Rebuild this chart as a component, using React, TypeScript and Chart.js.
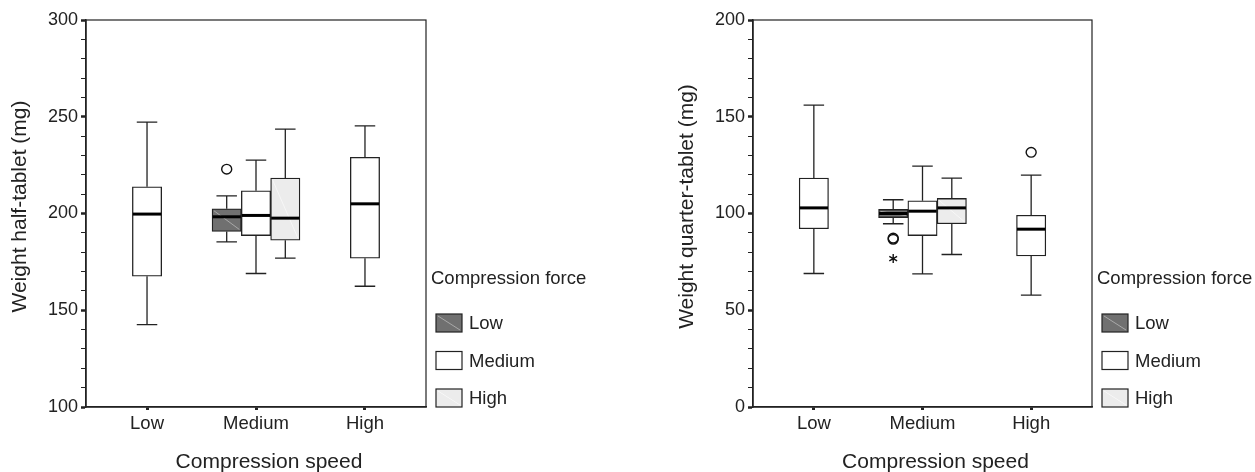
import React, { useEffect, useRef } from 'react';
import { Chart, registerables } from 'chart.js';

Chart.register(...registerables);

// ---------- shared labels ----------
const speedLabels = ['Low', 'Medium', 'High'];
const forceLabels = ['Low', 'Medium', 'High'];
const forceColors = ['#707070', '#ffffff', '#ececec'];
const forceHatch = ['#a9a9a9', '', '#f7f7f7'];
const xTitle = 'Compression speed';
const legendTitle = 'Compression force';
const xRange = [-0.56, 2.56];

// ---------- panel 1: half tablet ----------
const halfTitle = 'Weight half-tablet (mg)';
const halfRange = [100, 300];
const halfMinorStep = 10;
const halfMajorStep = 50;
const halfLowMin = [null, 185.3, null];
const halfLowQ1 = [null, 190.7, null];
const halfLowMed = [null, 198.3, null];
const halfLowQ3 = [null, 202.4, null];
const halfLowMax = [null, 209.1, null];
const halfMedMin = [142.6, 169.0, 162.4];
const halfMedQ1 = [167.6, 188.6, 176.9];
const halfMedMed = [199.7, 199.0, 205.0];
const halfMedQ3 = [213.8, 211.7, 229.0];
const halfMedMax = [247.2, 227.6, 245.3];
const halfHighMin = [null, 176.9, null];
const halfHighQ1 = [null, 186.2, null];
const halfHighMed = [null, 197.6, null];
const halfHighQ3 = [null, 218.3, null];
const halfHighMax = [null, 243.6, null];
const halfOutSpeed = [1];
const halfOutForce = [0];
const halfOutValue = [222.9];
const halfOutMark = ['circle'];

// ---------- panel 2: quarter tablet ----------
const quarterTitle = 'Weight quarter-tablet (mg)';
const quarterRange = [0, 200];
const quarterMinorStep = 10;
const quarterMajorStep = 50;
const quarterLowMin = [null, 94.7, null];
const quarterLowQ1 = [null, 97.9, null];
const quarterLowMed = [null, 100.0, null];
const quarterLowQ3 = [null, 102.1, null];
const quarterLowMax = [null, 107.1, null];
const quarterMedMin = [69.0, 68.8, 57.8];
const quarterMedQ1 = [92.1, 88.6, 78.1];
const quarterMedMed = [102.9, 101.2, 91.9];
const quarterMedQ3 = [118.3, 106.6, 99.1];
const quarterMedMax = [156.0, 124.5, 119.8];
const quarterHighMin = [null, 78.8, null];
const quarterHighQ1 = [null, 94.7, null];
const quarterHighMed = [null, 102.9, null];
const quarterHighQ3 = [null, 107.8, null];
const quarterHighMax = [null, 118.3, null];
const quarterOutSpeed = [1, 1, 1, 2];
const quarterOutForce = [0, 0, 0, 1];
const quarterOutValue = [86.7, 87.3, 76.7, 131.6];
const quarterOutMark = ['circle', 'circle', 'star', 'circle'];

const INK = '#222222';
const FONT = '"Liberation Sans", Arial, Helvetica, sans-serif';

type Num = number | null;

function buildDatasets(mins: Num[][], q1s: Num[][], meds: Num[][], q3s: Num[][], maxs: Num[][]) {
  return forceLabels.map((label, f) => ({
    type: 'bar' as const,
    label,
    data: speedLabels.map((_, i) => ({
      x: i,
      y: q1s[f][i] == null ? null : [q1s[f][i], q3s[f][i]],
    })),
    backgroundColor: forceColors[f],
    borderColor: INK,
    borderWidth: 1.3,
    borderSkipped: false,
    barThickness: 29.3,
    grouped: true,
    skipNull: true,
    whiskerMin: mins[f],
    median: meds[f],
    whiskerMax: maxs[f],
    hatch: forceHatch[f],
  }));
}

const boxPlugin = {
  id: 'boxParts',
  afterDatasetsDraw(chart: any, _args: any, opts: any) {
    const { ctx } = chart;
    const ys = chart.scales.y;
    ctx.save();
    chart.data.datasets.forEach((ds: any, di: number) => {
      const meta = chart.getDatasetMeta(di);
      meta.data.forEach((el: any, i: number) => {
        if (ds.median[i] == null) return;
        const x = el.x;
        const half = el.width / 2;
        const yQ1 = ys.getPixelForValue(ds.data[i].y[0]);
        const yQ3 = ys.getPixelForValue(ds.data[i].y[1]);
        const yMin = ys.getPixelForValue(ds.whiskerMin[i]);
        const yMax = ys.getPixelForValue(ds.whiskerMax[i]);
        const yMed = ys.getPixelForValue(ds.median[i]);
        if (ds.hatch) {
          ctx.strokeStyle = ds.hatch;
          ctx.lineWidth = 1;
          ctx.beginPath();
          ctx.moveTo(x - half + 2, yQ3 + 2);
          ctx.lineTo(x + half - 2, yQ1 - 2);
          ctx.stroke();
        }
        const cap = el.width * 0.35;
        ctx.strokeStyle = INK;
        ctx.lineWidth = 1.3;
        ctx.beginPath();
        ctx.moveTo(x, yQ3);
        ctx.lineTo(x, yMax);
        ctx.moveTo(x - cap, yMax);
        ctx.lineTo(x + cap, yMax);
        ctx.moveTo(x, yQ1);
        ctx.lineTo(x, yMin);
        ctx.moveTo(x - cap, yMin);
        ctx.lineTo(x + cap, yMin);
        ctx.stroke();
        ctx.strokeStyle = '#000';
        ctx.lineWidth = 3;
        ctx.beginPath();
        ctx.moveTo(x - half + 0.5, yMed);
        ctx.lineTo(x + half - 0.5, yMed);
        ctx.stroke();
      });
    });
    const o = opts.outliers;
    for (let k = 0; k < o.speed.length; k++) {
      const meta = chart.getDatasetMeta(o.force[k]);
      const el = meta.data[o.speed[k]];
      const x = el.x;
      const y = ys.getPixelForValue(o.value[k]);
      ctx.strokeStyle = '#111';
      ctx.lineWidth = 1.4;
      ctx.beginPath();
      if (o.mark[k] === 'circle') {
        ctx.ellipse(x, y, 5, 4.8, 0, 0, Math.PI * 2);
      } else {
        const r = 4.5;
        for (let a = 0; a < 3; a++) {
          const ang = Math.PI / 2 + (a * Math.PI) / 3;
          ctx.moveTo(x + r * Math.cos(ang), y + r * Math.sin(ang));
          ctx.lineTo(x - r * Math.cos(ang), y - r * Math.sin(ang));
        }
      }
      ctx.stroke();
    }
    ctx.restore();
  },
  afterDraw(chart: any, _args: any, opts: any) {
    const { ctx, chartArea } = chart;
    const { left, right, top, bottom } = chartArea;
    ctx.save();
    ctx.strokeStyle = INK;
    ctx.lineWidth = 1.2;
    ctx.strokeRect(left, top, right - left, bottom - top);
    ctx.fillStyle = INK;
    ctx.font = `21px ${FONT}`;
    ctx.textAlign = 'center';
    ctx.textBaseline = 'middle';
    ctx.fillText(opts.xTitle, (left + right) / 2 + 13, bottom + 55);
    ctx.save();
    ctx.translate(left + opts.yTitleOffset, (top + bottom) / 2 - 7);
    ctx.rotate(-Math.PI / 2);
    ctx.fillText(opts.yTitle, 0, 0);
    ctx.restore();
    ctx.font = `18.5px ${FONT}`;
    ctx.textAlign = 'left';
    ctx.fillText(opts.legendTitle, right + 5, bottom - 128);
    const n = chart.data.datasets.length;
    chart.data.datasets.forEach((ds: any, i: number) => {
      const bh = 18;
      const bw = 26;
      const bx = right + 10;
      const by = bottom - bh - (n - 1 - i) * 37.5;
      ctx.fillStyle = ds.backgroundColor;
      ctx.fillRect(bx, by, bw, bh);
      if (ds.hatch) {
        ctx.strokeStyle = ds.hatch;
        ctx.lineWidth = 1;
        ctx.beginPath();
        ctx.moveTo(bx + 2, by + 2);
        ctx.lineTo(bx + bw - 2, by + bh - 2);
        ctx.stroke();
      }
      ctx.strokeStyle = INK;
      ctx.lineWidth = 1.2;
      ctx.strokeRect(bx, by, bw, bh);
      ctx.fillStyle = INK;
      ctx.fillText(ds.label, bx + bw + 7, by + bh / 2 + 1);
    });
    ctx.restore();
  },
};

function makeConfig(p: any) {
  return {
    type: 'bar' as const,
    data: { datasets: buildDatasets(p.mins, p.q1s, p.meds, p.q3s, p.maxs) },
    plugins: [boxPlugin],
    options: {
      animation: false,
      responsive: false,
      maintainAspectRatio: false,
      layout: { padding: { left: 0, top: 20, right: p.padRight, bottom: 0 } },
      plugins: {
        legend: { display: false },
        tooltip: { enabled: false },
        boxParts: {
          outliers: p.outliers,
          xTitle,
          yTitle: p.yTitle,
          legendTitle,
          yTitleOffset: -66,
        },
      },
      scales: {
        x: {
          type: 'linear',
          min: xRange[0],
          max: xRange[1],
          offset: false,
          afterBuildTicks: (s: any) => {
            s.ticks = speedLabels.map((_, i) => ({ value: i }));
          },
          afterFit: (s: any) => {
            s.height = 65;
          },
          ticks: {
            autoSkip: false,
            maxRotation: 0,
            padding: 2.5,
            color: INK,
            font: { size: 18.5, family: FONT },
            callback: (v: any) => speedLabels[v] ?? '',
          },
          grid: {
            drawOnChartArea: false,
            offset: false,
            drawTicks: true,
            tickLength: 3,
            tickWidth: 3,
            tickColor: INK,
          },
          border: { display: true, color: INK, width: 1.5 },
        },
        y: {
          type: 'linear',
          min: p.range[0],
          max: p.range[1],
          afterBuildTicks: (s: any) => {
            const t = [];
            for (let v = p.range[0]; v <= p.range[1]; v += p.minor) t.push({ value: v });
            s.ticks = t;
          },
          afterFit: (s: any) => {
            s.width = p.yAxisWidth;
          },
          ticks: {
            autoSkip: false,
            padding: 3,
            color: INK,
            font: { size: 18, family: FONT },
            callback: (v: any) => (v % p.major === 0 ? String(v) : ''),
          },
          grid: {
            drawOnChartArea: false,
            drawTicks: true,
            tickLength: 5,
            tickWidth: (c: any) => (c.tick && c.tick.value % p.major === 0 ? 2.5 : 1),
            tickColor: INK,
          },
          border: { display: true, color: INK, width: 1.5 },
        },
      },
    },
  };
}

const halfPanel = {
  yTitle: halfTitle,
  range: halfRange,
  minor: halfMinorStep,
  major: halfMajorStep,
  mins: [halfLowMin, halfMedMin, halfHighMin],
  q1s: [halfLowQ1, halfMedQ1, halfHighQ1],
  meds: [halfLowMed, halfMedMed, halfHighMed],
  q3s: [halfLowQ3, halfMedQ3, halfHighQ3],
  maxs: [halfLowMax, halfMedMax, halfHighMax],
  outliers: { speed: halfOutSpeed, force: halfOutForce, value: halfOutValue, mark: halfOutMark },
  yAxisWidth: 86,
  padRight: 201,
};

const quarterPanel = {
  yTitle: quarterTitle,
  range: quarterRange,
  minor: quarterMinorStep,
  major: quarterMajorStep,
  mins: [quarterLowMin, quarterMedMin, quarterHighMin],
  q1s: [quarterLowQ1, quarterMedQ1, quarterHighQ1],
  meds: [quarterLowMed, quarterMedMed, quarterHighMed],
  q3s: [quarterLowQ3, quarterMedQ3, quarterHighQ3],
  maxs: [quarterLowMax, quarterMedMax, quarterHighMax],
  outliers: { speed: quarterOutSpeed, force: quarterOutForce, value: quarterOutValue, mark: quarterOutMark },
  yAxisWidth: 126,
  padRight: 163,
};

export default function App() {
  const leftRef = useRef<HTMLCanvasElement>(null);
  const rightRef = useRef<HTMLCanvasElement>(null);

  useEffect(() => {
    const c1 = new Chart(leftRef.current as HTMLCanvasElement, makeConfig(halfPanel) as any);
    const c2 = new Chart(rightRef.current as HTMLCanvasElement, makeConfig(quarterPanel) as any);
    return () => {
      c1.destroy();
      c2.destroy();
    };
  }, []);

  return (
    <div style={{ position: 'fixed', left: 0, top: 0, width: 1255, height: 472, background: '#fff' }}>
      <canvas
        ref={leftRef}
        width={627}
        height={472}
        style={{ position: 'absolute', left: 0, top: 0, width: 627, height: 472 }}
      />
      <canvas
        ref={rightRef}
        width={628}
        height={472}
        style={{ position: 'absolute', left: 627, top: 0, width: 628, height: 472 }}
      />
    </div>
  );
}
